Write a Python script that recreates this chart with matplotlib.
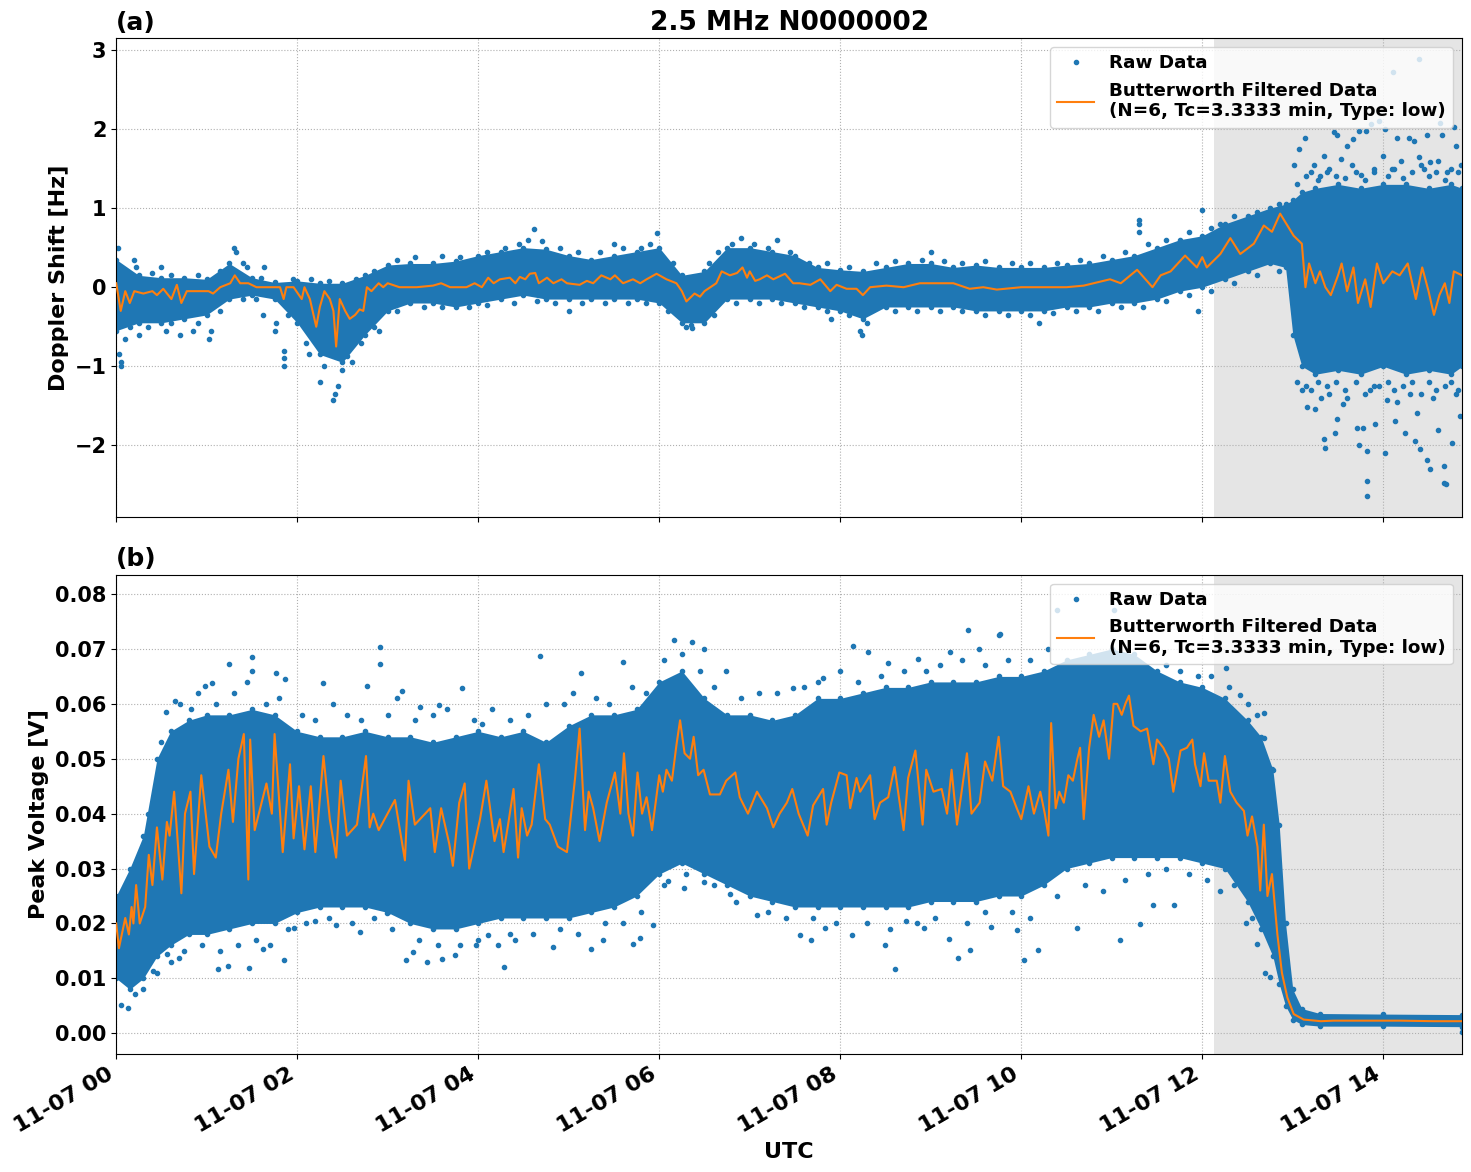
import matplotlib
matplotlib.use('Agg')
import matplotlib.pyplot as plt
import matplotlib.dates as mdates
import numpy as np
import pandas as pd

plt.rcParams['font.family'] = ['DejaVu Sans']
plt.rcParams['font.weight'] = 'bold'
plt.rcParams['axes.labelweight'] = 'bold'
plt.rcParams['axes.titleweight'] = 'bold'

BASE = pd.Timestamp('2023-11-07 00:00')
T_END = 14.87      # hours after 00 UTC
SHADE_START = 12.13

# ---------------- (a) Doppler shift ----------------
# dense core of the raw data (hours, Hz)
dop_env_t = [0.0, 0.25, 0.5, 0.75, 1.0, 1.25, 1.5, 1.75, 2.0, 2.25, 2.5, 2.75,
             3.0, 3.25, 3.5, 3.75, 4.0, 4.25, 4.5, 4.75, 5.0, 5.25, 5.5, 5.75,
             6.0, 6.25, 6.5, 6.75, 7.0, 7.25, 7.5, 7.75, 8.0, 8.25, 8.5, 8.75,
             9.0, 9.25, 9.5, 9.75, 10.0, 10.25, 10.5, 10.75, 11.0, 11.25, 11.5,
             11.75, 12.0, 12.25, 12.5, 12.75, 12.92, 13.0, 13.1, 13.25, 13.5,
             13.75, 14.0, 14.25, 14.5, 14.75, 14.87]
dop_env_hi = [0.35, 0.15, 0.12, 0.12, 0.1, 0.3, 0.12, 0.06, 0.08, 0.05, 0.05, 0.15,
              0.28, 0.3, 0.3, 0.33, 0.4, 0.45, 0.5, 0.48, 0.4, 0.35, 0.4, 0.45,
              0.5, 0.15, 0.2, 0.5, 0.5, 0.45, 0.4, 0.25, 0.22, 0.2, 0.25, 0.3,
              0.3, 0.25, 0.28, 0.25, 0.25, 0.25, 0.28, 0.3, 0.35, 0.4, 0.5,
              0.6, 0.65, 0.8, 0.9, 1.0, 1.05, 1.1, 1.2, 1.25, 1.3,
              1.25, 1.3, 1.3, 1.25, 1.3, 1.25]
dop_env_lo = [-0.55, -0.45, -0.45, -0.4, -0.35, -0.15, -0.1, -0.15, -0.45, -0.85, -0.95, -0.6,
              -0.3, -0.2, -0.2, -0.25, -0.2, -0.15, -0.1, -0.15, -0.15, -0.15, -0.15, -0.15,
              -0.2, -0.45, -0.45, -0.15, -0.15, -0.15, -0.2, -0.25, -0.3, -0.4, -0.25, -0.25,
              -0.25, -0.25, -0.3, -0.3, -0.3, -0.3, -0.25, -0.25, -0.2, -0.2, -0.15,
              -0.05, 0.0, 0.1, 0.2, 0.3, 0.25, -0.6, -1.0, -1.1, -1.05,
              -1.1, -1.0, -1.1, -1.05, -1.1, -1.0]

# raw points sitting just outside the dense core
dop_edge_t = [0.1, 0.4, 0.6, 0.9, 1.15, 1.4, 1.6, 1.95, 2.15, 2.35, 2.65, 2.85, 3.1,
              3.3, 3.6, 3.8, 4.1, 4.3, 4.45, 4.7, 4.9, 5.1, 5.35, 5.6, 5.8, 5.9,
              6.15, 6.55, 6.65, 6.8, 7.05, 7.2, 7.45, 7.65, 7.85, 8.1, 8.4, 8.6,
              8.9, 9.15, 9.35, 9.6, 9.9, 10.1, 10.4, 10.65, 10.9, 11.15, 11.4, 11.6,
              11.85, 12.1, 12.35, 12.6, 12.85,
              0.15, 0.35, 0.6, 0.9, 1.15, 1.4, 1.55, 1.9, 2.1, 2.3, 2.5, 2.7, 2.85,
              3.1, 3.4, 3.6, 3.9, 4.1, 4.4, 4.65, 4.85, 5.15, 5.4, 5.65, 5.85, 6.1,
              6.35, 6.6, 6.85, 7.1, 7.35, 7.6, 7.85, 8.1, 8.3, 8.6, 8.85, 9.1, 9.35,
              9.6, 9.85, 10.1, 10.35, 10.6, 10.85, 11.1, 11.35, 11.6, 11.85, 12.1,
              12.35, 12.6, 12.85,
              13.05, 13.15, 13.28, 13.38, 13.48, 13.58, 13.7, 13.8, 13.9, 14.05,
              14.12, 14.22, 14.32, 14.42, 14.5, 14.58, 14.68, 14.75, 14.83,
              13.05, 13.15, 13.28, 13.38, 13.48, 13.58, 13.7, 13.8, 13.9, 14.05,
              14.12, 14.22, 14.32, 14.42, 14.5, 14.58, 14.68, 14.75, 14.83]
dop_edge_v = [0.2, 0.18, 0.15, 0.15, 0.2, 0.3, 0.12, 0.1, 0.1, 0.08, 0.1, 0.2, 0.35,
              0.38, 0.4, 0.38, 0.45, 0.5, 0.55, 0.58, 0.5, 0.45, 0.45, 0.5, 0.5, 0.55,
              0.3, 0.3, 0.45, 0.55, 0.55, 0.5, 0.45, 0.3, 0.3, 0.25, 0.3, 0.33,
              0.35, 0.33, 0.3, 0.33, 0.3, 0.3, 0.3, 0.35, 0.4, 0.45, 0.55, 0.6,
              0.7, 0.75, 0.9, 0.95, 1.05,
              -0.5, -0.5, -0.45, -0.45, -0.3, -0.15, -0.15, -0.35, -0.7, -1.0, -1.05, -0.7, -0.5,
              -0.3, -0.25, -0.25, -0.25, -0.22, -0.2, -0.18, -0.2, -0.2, -0.2, -0.2, -0.2, -0.3,
              -0.48, -0.35, -0.2, -0.2, -0.2, -0.25, -0.3, -0.35, -0.45, -0.3, -0.3, -0.3, -0.3,
              -0.35, -0.35, -0.35, -0.33, -0.3, -0.3, -0.25, -0.25, -0.18, -0.1, -0.05,
              0.05, 0.15, 0.2,
              1.3, 1.4, 1.35, 1.45, 1.4, 1.38, 1.45, 1.35, 1.5, 1.4,
              1.5, 1.38, 1.45, 1.55, 1.4, 1.45, 1.35, 1.5, 1.45,
              -1.2, -1.25, -1.2, -1.25, -1.2, -1.3, -1.2, -1.35, -1.25, -1.2,
              -1.3, -1.25, -1.2, -1.35, -1.2, -1.3, -1.25, -1.2, -1.3]

# isolated raw points far from the core
dop_pts_t = [0.02, 0.03, 0.05, 0.05, 0.1, 0.2, 0.22, 0.25, 0.5, 0.55, 0.7, 0.85, 1.02,
             1.05, 1.3, 1.32, 1.45, 1.63, 1.62, 1.75, 1.77, 1.85, 1.85, 1.85, 2.13,
             2.25, 2.4, 2.42, 2.45, 2.6, 2.55, 2.9, 4.62, 5.97, 4.55, 5.5, 6.9, 7.3,
             5.0, 6.36, 6.3, 8.24, 8.22, 7.9, 9.0, 11.3, 11.3, 11.3, 10.2, 12.0,
             11.95, 12.2,
             13.07, 13.13, 13.45, 13.49, 13.6, 13.67, 13.73, 13.81, 13.86, 13.95,
             14.02, 14.15, 14.28, 14.34, 14.39, 14.11, 14.48, 14.65, 14.78, 14.63,
             13.34, 13.53, 14.0, 14.52, 14.8, 14.86, 13.01, 13.23, 13.2, 13.4,
             13.65, 13.9, 14.2, 14.45, 14.7, 13.3, 13.75, 14.1, 14.4, 14.6,
             13.16, 13.25, 13.34, 13.36, 13.47, 13.49, 13.71, 13.78, 13.73, 13.82,
             13.82, 13.82, 13.91, 14.02, 14.13, 14.24, 14.35, 14.41, 14.48, 14.52,
             14.67, 14.67, 14.69, 14.76, 14.85, 13.56, 14.04, 14.6, 14.37, 13.31,
             13.1, 13.4, 13.6, 13.85, 14.15, 14.3, 14.55, 14.8, 13.2, 13.95]
dop_pts_v = [0.5, -0.85, -0.95, -1.0, -0.65, 0.35, 0.25, -0.6, 0.25, -0.55, -0.6, -0.55, -0.65,
             -0.55, 0.5, 0.45, 0.25, 0.25, -0.35, -0.55, -0.45, -1.0, -0.9, -0.8, -0.85,
             -1.2, -1.42, -1.35, -1.25, -0.95, -0.87, -0.55, 0.73, 0.69, 0.6, 0.55, 0.62, 0.6,
             -0.3, -0.52, -0.5, -0.6, -0.55, -0.4, 0.45, 0.85, 0.8, 0.7, -0.45, 0.98,
             -0.3, 0.8,
             1.75, 1.89, 1.96, 1.92, 1.79, 1.87, 1.98, 1.98, 2.06, 2.1,
             2.0, 1.89, 1.89, 1.85, 2.89, 2.72, 1.92, 1.92, 2.02, 2.08,
             1.66, 1.62, 1.66, 1.58, 1.79, 1.54, 1.54, 1.54, 1.45, 1.5,
             1.55, 1.45, 1.6, 1.5, 1.45, 1.4, 1.42, 1.5, 1.65, 1.6,
             -1.52, -1.54, -1.92, -2.03, -1.84, -1.67, -1.78, -1.78, -1.99, -2.07,
             -2.45, -2.64, -1.73, -2.09, -1.69, -1.84, -1.95, -2.05, -2.18, -2.3,
             -2.26, -2.47, -2.49, -1.97, -1.63, -1.48, -1.42, -1.8, -1.59, -1.4,
             -1.3, -1.35, -1.4, -1.3, -1.45, -1.35, -1.4, -1.35, -1.3, -1.25]

# Butterworth filtered curve (hours, Hz)
dop_filt_t = [0.0, 0.05, 0.1, 0.15, 0.2, 0.3, 0.4, 0.45, 0.52, 0.61, 0.67, 0.72, 0.78,
              0.89, 1.02, 1.07, 1.15, 1.26, 1.31, 1.37, 1.46, 1.55, 1.7, 1.81, 1.85,
              1.88, 1.96, 1.99, 2.05, 2.08, 2.14, 2.21, 2.25, 2.3, 2.36, 2.4, 2.43,
              2.47, 2.53, 2.58, 2.64, 2.69, 2.73, 2.77, 2.82, 2.9, 2.95, 3.0, 3.13,
              3.32, 3.5, 3.59, 3.69, 3.87, 3.96, 4.04, 4.11, 4.17, 4.24,
              4.35, 4.41, 4.46, 4.52, 4.57, 4.63, 4.67, 4.76, 4.83, 4.92, 4.98, 5.12,
              5.2, 5.27, 5.36, 5.46, 5.51, 5.6, 5.71, 5.79, 5.86, 5.97, 6.08, 6.19,
              6.25, 6.3, 6.39, 6.45, 6.5, 6.63, 6.69, 6.78, 6.86, 6.92, 6.97, 7.0,
              7.06, 7.11, 7.19, 7.26, 7.39, 7.48, 7.55, 7.67, 7.78, 7.89, 7.96, 8.07,
              8.18, 8.25, 8.33, 8.51, 8.7, 8.88, 9.07, 9.25, 9.43, 9.58, 9.73,
              10.0, 10.3, 10.5, 10.69, 10.98, 11.1, 11.28, 11.45, 11.54, 11.65, 11.81,
              11.94, 12.0, 12.05, 12.2, 12.31, 12.42, 12.57, 12.68, 12.77, 12.86,
              13.01, 13.1, 13.14, 13.18, 13.25, 13.3, 13.36, 13.42, 13.5, 13.54,
              13.6, 13.67, 13.72, 13.8, 13.86, 13.93, 14.0, 14.1, 14.18, 14.27,
              14.36, 14.43, 14.5, 14.56, 14.62, 14.68, 14.73, 14.78, 14.87]
dop_filt_v = [0.05, -0.3, -0.05, -0.2, -0.05, -0.08, -0.05, -0.1, -0.02, -0.15, 0.03, -0.2, -0.05,
              -0.05, -0.05, -0.08, 0.0, 0.05, 0.15, 0.05, 0.05, 0.0, 0.0, 0.0, -0.15,
              0.0, 0.0, -0.05, -0.15, 0.0, -0.15, -0.5, -0.25, -0.05, -0.15, -0.3, -0.75,
              -0.15, -0.3, -0.4, -0.35, -0.28, -0.3, 0.0, -0.05, 0.05, 0.0, 0.05, 0.0,
              0.0, 0.02, 0.05, 0.0, 0.0, 0.05, 0.0, 0.12, 0.05, 0.1,
              0.12, 0.05, 0.13, 0.1, 0.17, 0.18, 0.05, 0.12, 0.05, 0.1, 0.05, 0.03,
              0.08, 0.05, 0.15, 0.1, 0.15, 0.05, 0.1, 0.05, 0.1, 0.17, 0.1, 0.05,
              -0.05, -0.18, -0.08, -0.12, -0.05, 0.05, 0.2, 0.15, 0.18, 0.25, 0.12, 0.2,
              0.08, 0.1, 0.15, 0.1, 0.17, 0.05, 0.05, 0.03, 0.1, -0.05, 0.03, -0.02,
              -0.02, -0.1, 0.0, 0.02, 0.0, 0.05, 0.05, 0.05, -0.02, 0.0, -0.03,
              0.0, 0.0, 0.0, 0.02, 0.1, 0.05, 0.22, 0.0, 0.15, 0.2, 0.4,
              0.25, 0.38, 0.25, 0.42, 0.62, 0.42, 0.55, 0.78, 0.7, 0.93,
              0.65, 0.55, 0.0, 0.3, 0.05, 0.2, 0.0, -0.1, 0.15, 0.3,
              -0.05, 0.25, -0.2, 0.1, -0.25, 0.3, 0.05, 0.2, 0.15, 0.3,
              -0.15, 0.25, -0.05, -0.35, -0.1, 0.05, -0.2, 0.2, 0.15]

# ---------------- (b) Peak voltage ----------------
pv_env_t = [0.0, 0.15, 0.3, 0.45, 0.6, 0.8, 1.0, 1.25, 1.5, 1.75, 2.0, 2.25, 2.5,
            2.75, 3.0, 3.25, 3.5, 3.75, 4.0, 4.25, 4.5, 4.75, 5.0, 5.25, 5.5,
            5.75, 6.0, 6.25, 6.5, 6.75, 7.0, 7.25, 7.5, 7.75, 8.0, 8.25, 8.5,
            8.75, 9.0, 9.25, 9.5, 9.75, 10.0, 10.25, 10.5, 10.75, 11.0, 11.25,
            11.5, 11.75, 12.0, 12.25, 12.5, 12.65, 12.78, 12.85, 12.92, 13.0,
            13.1, 13.3, 14.0, 14.87]
pv_env_hi = [0.025, 0.03, 0.036, 0.05, 0.055, 0.057, 0.058, 0.058, 0.059, 0.058, 0.055, 0.054, 0.054,
             0.055, 0.054, 0.054, 0.053, 0.054, 0.055, 0.054, 0.055, 0.053, 0.056, 0.058, 0.058,
             0.059, 0.064, 0.066, 0.061, 0.058, 0.058, 0.057, 0.058, 0.061, 0.061, 0.062, 0.063,
             0.063, 0.064, 0.064, 0.064, 0.065, 0.065, 0.066, 0.068, 0.069, 0.07, 0.069,
             0.066, 0.064, 0.063, 0.061, 0.057, 0.054, 0.048, 0.038, 0.02, 0.008,
             0.0045, 0.0036, 0.0035, 0.0034]
pv_env_lo = [0.01, 0.008, 0.01, 0.014, 0.016, 0.018, 0.018, 0.019, 0.02, 0.02, 0.022, 0.023, 0.023,
             0.023, 0.022, 0.02, 0.019, 0.019, 0.02, 0.021, 0.021, 0.021, 0.021, 0.022, 0.023,
             0.025, 0.029, 0.031, 0.029, 0.027, 0.025, 0.024, 0.023, 0.023, 0.023, 0.023, 0.023,
             0.023, 0.024, 0.024, 0.024, 0.025, 0.025, 0.027, 0.03, 0.031, 0.032, 0.032,
             0.032, 0.032, 0.031, 0.03, 0.024, 0.019, 0.014, 0.009, 0.005, 0.0025,
             0.0016, 0.0013, 0.0013, 0.0012]

pv_edge_t = [0.35, 0.5, 0.7, 0.9, 1.1, 1.3, 1.45, 1.65, 1.8, 2.05, 2.2, 2.4, 2.55,
             2.7, 3.0, 3.1, 3.3, 3.5, 3.65, 3.95, 4.15, 4.35, 4.55, 4.75, 4.95,
             5.05, 5.3, 5.45, 5.7, 5.85, 6.05, 6.25, 6.45, 6.6, 6.9, 7.1, 7.3,
             7.6, 7.75, 8.0, 8.2, 8.45, 8.7, 8.95, 9.1, 9.35, 9.6, 9.85, 10.1,
             10.3, 11.6, 11.75, 11.95, 12.1, 12.3, 12.5, 12.6,
             0.3, 0.45, 0.6, 0.75, 0.95, 1.15, 1.35, 1.55, 1.7, 1.9, 2.1, 2.35,
             2.6, 2.85, 3.05, 3.35, 3.55, 3.8, 4.0, 4.35, 4.6, 4.9, 5.1, 5.4,
             5.6, 5.8, 6.05, 6.3, 6.6, 6.85, 7.2, 7.4, 7.7, 7.95, 8.3, 8.55,
             8.85, 9.05, 9.4, 9.6, 9.9, 10.1, 10.4, 10.7, 10.9, 11.15, 11.4,
             11.6, 11.85, 12.05, 12.35, 12.55]
pv_edge_v = [0.04, 0.053, 0.06, 0.062, 0.06, 0.062, 0.064, 0.06, 0.061, 0.058, 0.057, 0.06, 0.058,
             0.057, 0.058, 0.061, 0.057, 0.058, 0.059, 0.057, 0.059, 0.057, 0.058, 0.06, 0.06,
             0.062, 0.061, 0.06, 0.063, 0.062, 0.068, 0.069, 0.066, 0.063, 0.061, 0.062, 0.062,
             0.063, 0.064, 0.066, 0.064, 0.065, 0.066, 0.066, 0.067, 0.068, 0.067, 0.068, 0.068,
             0.07, 0.067, 0.066, 0.065, 0.065, 0.063, 0.06, 0.058,
             0.008, 0.011, 0.013, 0.015, 0.016, 0.015, 0.016, 0.017, 0.016, 0.019, 0.02, 0.021,
             0.02, 0.021, 0.019, 0.017, 0.016, 0.016, 0.017, 0.018, 0.018, 0.019, 0.018, 0.02,
             0.02, 0.022, 0.027, 0.029, 0.027, 0.024, 0.022, 0.021, 0.021, 0.02, 0.02, 0.019,
             0.02, 0.021, 0.02, 0.022, 0.022, 0.021, 0.025, 0.027, 0.026, 0.028, 0.029,
             0.03, 0.029, 0.028, 0.027, 0.021]

pv_pts_t = [0.55, 0.65, 0.98, 1.06, 1.25, 1.5, 1.5, 1.77, 1.86, 2.29, 2.77, 2.92, 2.92,
            3.16, 3.36, 3.57, 3.82, 4.04, 0.83,
            0.05, 0.13, 0.21, 0.22, 0.41, 0.56, 0.69, 1.13, 1.23, 1.47, 1.62, 1.85,
            1.96, 2.2, 2.43, 2.69, 2.99, 3.2, 3.28, 3.43, 3.6, 3.74, 3.98, 4.11, 4.22,
            4.68, 5.14, 5.6, 6.16, 6.36, 6.49, 6.74, 7.48, 7.81, 8.14, 8.31, 8.53,
            8.86, 9.21, 9.41, 9.53, 9.75,
            4.28, 4.41, 4.83, 5.25, 5.38, 5.71, 5.79, 5.93, 6.27, 6.1, 6.5, 6.78,
            7.08, 7.55, 7.68, 7.83, 8.13, 8.49, 8.6, 8.73, 8.92, 9.2, 9.3, 9.43, 9.67,
            9.77, 10.4, 11.02, 12.26, 12.42, 12.68, 12.68, 12.77, 11.83,
            9.95, 10.03, 10.19, 10.62, 11.09, 11.31, 11.69, 11.46, 12.2, 12.48,
            12.61, 12.69, 12.75, 14.87]
pv_pts_v = [0.0586, 0.0605, 0.0632, 0.0638, 0.0672, 0.0685, 0.066, 0.0657, 0.0645, 0.0638, 0.0632, 0.0703, 0.0672,
            0.0624, 0.0595, 0.0598, 0.0629, 0.0563, 0.059,
            0.0052, 0.0046, 0.0071, 0.0104, 0.0114, 0.0145, 0.0137, 0.0117, 0.0122, 0.0118, 0.0154, 0.0133,
            0.0191, 0.0204, 0.0197, 0.0184, 0.0219, 0.0134, 0.0148, 0.013, 0.0136, 0.0142, 0.016, 0.0179, 0.016,
            0.0688, 0.0657, 0.0677, 0.0717, 0.0712, 0.07, 0.066, 0.0629, 0.0648, 0.0706, 0.0694, 0.0675,
            0.0682, 0.0694, 0.0734, 0.07, 0.0725,
            0.012, 0.017, 0.0157, 0.0154, 0.017, 0.0162, 0.0173, 0.0197, 0.0264, 0.0278, 0.0275, 0.0253,
            0.0216, 0.0179, 0.017, 0.0191, 0.0179, 0.016, 0.0117, 0.0204, 0.0192, 0.0171, 0.0137, 0.0151, 0.0194,
            0.0728, 0.0771, 0.0771, 0.0666, 0.0617, 0.0583, 0.0537, 0.0481, 0.0629,
            0.0188, 0.0133, 0.0151, 0.0192, 0.017, 0.0199, 0.0234, 0.0234, 0.0259, 0.02,
            0.0163, 0.011, 0.0102, 0.0003]

pv_filt_t = [0.0, 0.03, 0.1, 0.14, 0.17, 0.19, 0.22, 0.26, 0.32, 0.36, 0.4, 0.45, 0.51,
             0.56, 0.59, 0.64, 0.72, 0.76, 0.82, 0.86, 0.94, 1.03, 1.1, 1.16, 1.24,
             1.29, 1.35, 1.41, 1.46, 1.48, 1.53, 1.66, 1.72, 1.75, 1.84, 1.92, 1.96,
             2.02, 2.08, 2.15, 2.2, 2.29, 2.36, 2.43, 2.48, 2.55, 2.66, 2.76, 2.8,
             2.84, 2.9, 3.08, 3.19, 3.23, 3.3, 3.47, 3.52, 3.59, 3.68, 3.72, 3.79,
             3.85, 3.9, 4.02, 4.09, 4.18, 4.24, 4.28, 4.33, 4.39, 4.44, 4.48, 4.54,
             4.59, 4.67, 4.74, 4.79, 4.88, 4.98, 5.07, 5.12, 5.18, 5.22, 5.27, 5.34,
             5.42, 5.51, 5.57, 5.61, 5.66, 5.71, 5.76, 5.81, 5.86, 5.92, 6.0, 6.04,
             6.08, 6.14, 6.19, 6.23, 6.28, 6.34, 6.38, 6.43, 6.49, 6.56, 6.67, 6.74,
             6.84, 6.89, 6.98, 7.08, 7.19, 7.26, 7.33, 7.41, 7.47, 7.54, 7.64, 7.7,
             7.81, 7.85, 7.9, 7.99, 8.07, 8.11, 8.18, 8.22, 8.33, 8.38, 8.44, 8.53,
             8.6, 8.7, 8.75, 8.83, 8.91, 8.95, 9.03, 9.12, 9.18, 9.23, 9.29, 9.4,
             9.45, 9.54, 9.6, 9.68, 9.75, 9.8, 9.88, 9.95, 10.0, 10.08, 10.14, 10.21,
             10.26, 10.3, 10.33, 10.38, 10.42, 10.47, 10.52, 10.57, 10.62, 10.65,
             10.69, 10.75, 10.8, 10.86, 10.91, 10.97, 11.02, 11.06, 11.11, 11.15,
             11.19, 11.24, 11.32, 11.39, 11.46, 11.5, 11.57, 11.63, 11.68, 11.76,
             11.83, 11.89, 11.92, 11.98, 12.02, 12.07, 12.16, 12.2, 12.25, 12.31,
             12.38, 12.46, 12.5, 12.55, 12.61, 12.64, 12.68, 12.72, 12.77, 12.83,
             12.88, 12.94, 13.01, 13.12, 13.31, 13.45, 13.82, 14.19, 14.56, 14.87]
pv_filt_v = [0.02, 0.0155, 0.021, 0.018, 0.023, 0.02, 0.027, 0.02, 0.023, 0.0325, 0.027, 0.0375, 0.028,
             0.0385, 0.036, 0.044, 0.0255, 0.04, 0.044, 0.029, 0.047, 0.034, 0.032, 0.04, 0.048,
             0.0385, 0.05, 0.0545, 0.028, 0.0535, 0.037, 0.0455, 0.04, 0.0545, 0.033, 0.049, 0.0355,
             0.045, 0.0335, 0.045, 0.033, 0.0505, 0.039, 0.032, 0.046, 0.036, 0.038, 0.0505, 0.0375,
             0.04, 0.037, 0.0425, 0.0315, 0.046, 0.038, 0.041, 0.033, 0.041, 0.0345, 0.0305, 0.042,
             0.0455, 0.03, 0.039, 0.046, 0.035, 0.039, 0.033, 0.038, 0.0445, 0.032, 0.041, 0.036,
             0.038, 0.049, 0.039, 0.038, 0.034, 0.033, 0.0465, 0.0555, 0.037, 0.044, 0.041, 0.035,
             0.042, 0.0475, 0.04, 0.051, 0.04, 0.036, 0.0475, 0.04, 0.043, 0.037, 0.047, 0.044,
             0.048, 0.046, 0.0525, 0.057, 0.051, 0.05, 0.054, 0.047, 0.048, 0.0435, 0.0435, 0.046,
             0.0475, 0.043, 0.04, 0.044, 0.041, 0.0375, 0.04, 0.042, 0.0445, 0.04, 0.036, 0.0415,
             0.0445, 0.038, 0.042, 0.0475, 0.047, 0.041, 0.0465, 0.044, 0.047, 0.039, 0.042, 0.043,
             0.0485, 0.037, 0.0465, 0.0515, 0.038, 0.048, 0.044, 0.0445, 0.04, 0.048, 0.038, 0.051,
             0.04, 0.042, 0.0495, 0.046, 0.054, 0.045, 0.044, 0.041, 0.039, 0.045, 0.04, 0.044,
             0.04, 0.036, 0.0565, 0.041, 0.044, 0.042, 0.047, 0.046, 0.05, 0.052,
             0.039, 0.052, 0.058, 0.054, 0.057, 0.05, 0.06, 0.06, 0.058, 0.06,
             0.0615, 0.056, 0.055, 0.0555, 0.049, 0.0535, 0.052, 0.05, 0.044, 0.0515,
             0.052, 0.0535, 0.049, 0.045, 0.051, 0.046, 0.046, 0.042, 0.0505, 0.044,
             0.042, 0.0405, 0.036, 0.0395, 0.034, 0.026, 0.038, 0.025, 0.029, 0.018,
             0.011, 0.0065, 0.0035, 0.0025, 0.0022, 0.0023, 0.0023, 0.0023, 0.0022, 0.0022]


def to_time(hours):
    return BASE + pd.to_timedelta(np.asarray(hours, dtype=float), unit='h')


def draw_panel(ax, env_t, env_hi, env_lo, edge_t, edge_v, pts_t, pts_v, filt_t, filt_v):
    ax.axvspan(to_time(SHADE_START), to_time(T_END), color='gray', alpha=0.2, lw=0)
    ax.fill_between(to_time(env_t), env_lo, env_hi, color='C0', lw=0, zorder=2)
    ax.plot(to_time(env_t), env_hi, '.', color='C0', zorder=2)
    ax.plot(to_time(env_t), env_lo, '.', color='C0', zorder=2)
    ax.plot(to_time(edge_t), edge_v, '.', color='C0', zorder=2)
    ax.plot(to_time(pts_t), pts_v, '.', color='C0', label='Raw Data', zorder=2)
    ax.plot(to_time(filt_t), filt_v, color='C1',
            label='Butterworth Filtered Data\n(N=6, Tc=3.3333 min, Type: low)', zorder=3)
    ax.grid(True, linestyle=':')
    ax.legend(loc='upper right', prop={'weight': 'bold', 'size': 13.2})
    ax.tick_params(axis='y', labelsize=15)
    ax.tick_params(axis='x', labelsize=16)


fig, (ax1, ax2) = plt.subplots(2, 1, figsize=(14.71, 11.72), dpi=100, sharex=True)
fig.subplots_adjust(left=0.079, right=0.9939, top=0.9676, bottom=0.1007, hspace=0.119)

draw_panel(ax1, dop_env_t, dop_env_hi, dop_env_lo, dop_edge_t, dop_edge_v,
           dop_pts_t, dop_pts_v, dop_filt_t, dop_filt_v)
draw_panel(ax2, pv_env_t, pv_env_hi, pv_env_lo, pv_edge_t, pv_edge_v,
           pv_pts_t, pv_pts_v, pv_filt_t, pv_filt_v)

ax1.set_ylim(-2.91, 3.15)
ax2.set_ylim(-0.00377, 0.08356)
ax2.set_xlim(to_time(0.0), to_time(T_END))

ax1.set_ylabel('Doppler Shift [Hz]', fontsize=16)
ax2.set_ylabel('Peak Voltage [V]', fontsize=16)
ax2.set_xlabel('UTC', fontsize=16)

ax1.set_title('2.5 MHz N0000002', fontsize=19)
ax1.set_title('(a)', loc='left', fontsize=18)
ax2.set_title('(b)', loc='left', fontsize=18)

ax2.xaxis.set_major_locator(mdates.HourLocator(byhour=range(0, 24, 2)))
ax2.xaxis.set_major_formatter(mdates.DateFormatter('%m-%d %H'))
for lbl in ax2.get_xticklabels():
    lbl.set_rotation(30)
    lbl.set_ha('right')

fig.savefig('out.png', dpi=100)
plt.close(fig)
